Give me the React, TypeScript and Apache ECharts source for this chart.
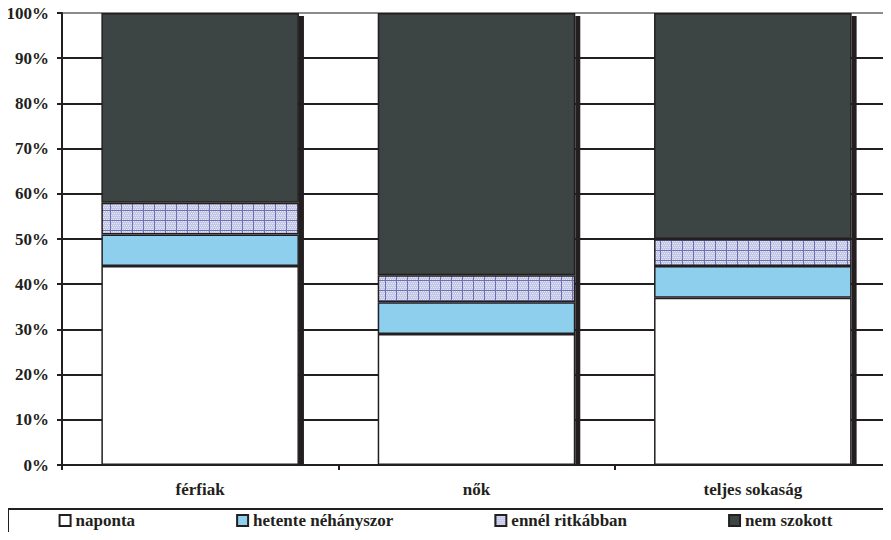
import React, { useEffect, useRef } from "react";
import * as echarts from "echarts";

const categories = ["férfiak", "nők", "teljes sokaság"];
const seriesNames = ["naponta", "hetente néhányszor", "ennél ritkábban", "nem szokott"];
const naponta = [44, 29, 37];
const hetente = [7, 7, 7];
const ritkabban = [7, 6, 6];
const nemSzokott = [42, 58, 50];
const yTicks = [0, 10, 20, 30, 40, 50, 60, 70, 80, 90, 100];

function makePattern(): HTMLCanvasElement {
  const c = document.createElement("canvas");
  c.width = 11;
  c.height = 10;
  const ctx = c.getContext("2d")!;
  ctx.fillStyle = "#c3c7e6";
  ctx.fillRect(0, 0, 11, 10);
  ctx.fillStyle = "#e6e8f6";
  for (let y = 1; y < 10; y += 2) {
    for (let x = 1 + ((y >> 1) % 2); x < 11; x += 2) {
      ctx.fillRect(x, y, 1, 1);
    }
  }
  ctx.fillStyle = "#6d70b3";
  ctx.fillRect(0, 0, 11, 1);
  ctx.fillRect(0, 0, 1, 10);
  return c;
}

export default function App() {
  const ref = useRef<HTMLDivElement>(null);
  useEffect(() => {
    const chart = echarts.init(ref.current!, null, { renderer: "svg" });
    const font = "Liberation Serif";
    const border = { borderColor: "#231f20", borderWidth: 1.5 };
    const pattern = { image: makePattern(), repeat: "repeat" } as any;
    const barW = 0.715;
    const colors = ["#ffffff", "#8ecfee", pattern, "#3c4544"];
    const datas = [naponta, hetente, ritkabban, nemSzokott];
    const barSeries = seriesNames.map((name, i) => ({
      type: "bar",
      name,
      stack: "total",
      barWidth: barW * 100 + "%",
      itemStyle: { color: colors[i], ...border },
      data: datas[i],
      z: 3,
    }));
    const splitColors = yTicks.map((t) => (t === 100 ? "#8c8c8c" : "#231f20"));
    chart.setOption({
      animation: false,
      textStyle: { fontFamily: font },
      grid: { left: 62, top: 13, width: 832, height: 452, containLabel: false },
      legend: {
        data: seriesNames,
        left: "center",
        top: 512,
        padding: 0,
        itemGap: 101,
        itemWidth: 11,
        itemHeight: 11,
        icon: "rect",
        textStyle: { fontFamily: font, fontWeight: "bold", fontSize: 17, color: "#231f20" },
        selectedMode: false,
      },
      graphic: [
        {
          type: "polyline",
          shape: { points: [[8, 545], [8, 509], [890, 509], [890, 545]] },
          style: { fill: null, stroke: "#231f20", lineWidth: 2 },
          z: 10,
        },
      ],
      xAxis: {
        type: "category",
        data: categories,
        axisLine: { lineStyle: { color: "#231f20", width: 2 } },
        axisTick: { show: true, length: 5, lineStyle: { color: "#231f20", width: 2 } },
        axisLabel: {
          margin: 16,
          fontFamily: font,
          fontWeight: "bold",
          fontSize: 17,
          color: "#231f20",
        },
      },
      yAxis: {
        type: "value",
        min: 0,
        max: 100,
        interval: 10,
        axisLine: { show: true, lineStyle: { color: "#231f20", width: 2 } },
        axisTick: { show: true, length: 5, lineStyle: { color: "#231f20", width: 2 } },
        splitLine: { show: true, lineStyle: { color: splitColors, width: 2 } },
        axisLabel: {
          margin: 13,
          formatter: "{value}%",
          fontFamily: font,
          fontWeight: "bold",
          fontSize: 17,
          color: "#231f20",
        },
      },
      series: [
        {
          type: "custom",
          name: "shadow",
          z: 2,
          data: categories.map((_, i) => [i, 100]),
          encode: { x: 0, y: 1 },
          renderItem: (params: any, api: any) => {
            const idx = api.value(0);
            const top = api.coord([idx, api.value(1)]);
            const bottom = api.coord([idx, 0]);
            const w = api.size([1, 0])[0] * barW;
            return {
              type: "rect",
              shape: {
                x: top[0] + w / 2,
                y: top[1] + 3,
                width: 5,
                height: bottom[1] - top[1] - 3,
              },
              style: { fill: "#231f20" },
            };
          },
        },
        ...barSeries,
      ],
    });
    return () => chart.dispose();
  }, []);
  return <div ref={ref} style={{ width: 891, height: 540, margin: -8 }} />;
}
